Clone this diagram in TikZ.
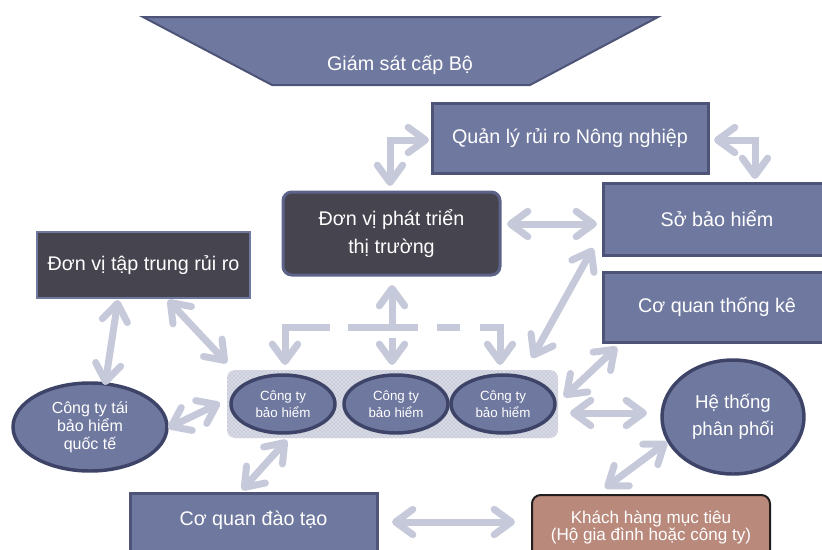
\documentclass[tikz,border=0pt]{standalone}
\usepackage{fontspec}
\setmainfont{Liberation Sans}
\usetikzlibrary{arrows.meta,shapes.geometric,patterns}

\definecolor{boxfill}{RGB}{111,120,159}
\definecolor{boxdraw}{RGB}{78,84,119}
\definecolor{darkfill}{RGB}{70,69,79}
\definecolor{darkdraw}{RGB}{92,98,136}
\definecolor{ovaldraw}{RGB}{62,68,104}
\definecolor{clientfill}{RGB}{185,137,124}
\definecolor{clientdraw}{RGB}{34,30,30}
\definecolor{linkc}{RGB}{198,201,218}
\definecolor{grpbg}{RGB}{216,218,229}
\definecolor{grpdot}{RGB}{160,164,186}

\begin{document}
\begin{tikzpicture}[x=0.75pt,y=-0.75pt,
  link/.style={draw=linkc,line width=5.25pt,line join=miter},
  twoway/.style={link,{Straight Barb[length=13pt,width=19pt,round]}-{Straight Barb[length=13pt,width=19pt,round]}},
  oneway/.style={link,-{Straight Barb[length=13pt,width=19pt,round]}},
  label font/.style={text=white,font=\fontsize{14.8}{21}\selectfont},
  panel/.style={rectangle,draw=boxdraw,line width=2.25pt,fill=boxfill,inner sep=0pt,align=center,label font},
  darkpanel/.style={rectangle,draw=darkdraw,line width=2.25pt,fill=darkfill,inner sep=0pt,align=center,label font},
  oval/.style={ellipse,draw=ovaldraw,line width=2.6pt,fill=boxfill,inner sep=0pt,align=center,text=white},
]
\useasboundingbox (0,0) rectangle (822,550);

% supervisory level banner
\draw[draw=boxdraw,line width=1.5pt,fill=boxfill] (143,17) -- (658,17) -- (530,85) -- (272,85) -- cycle;
\node[anchor=base,text=white,font=\fontsize{14.8}{17}\selectfont] (sup) at (400,70) {Giám sát cấp Bộ};

% rectangular units
\node[panel,minimum width=276*0.75pt,minimum height=70*0.75pt] (risk) at (570,138) {Quản lý rủi ro Nông nghiệp};
\node[panel,minimum width=228*0.75pt,minimum height=72*0.75pt] (dept) at (717,219) {Sở bảo hiểm};
\node[panel,minimum width=228*0.75pt,minimum height=70*0.75pt] (stat) at (717,307) {Cơ quan thống kê};
\node[darkpanel,rounded corners=6.5pt,minimum width=217*0.75pt,minimum height=83*0.75pt] (market) at (391.5,233.5) {Đơn vị phát triển\\thị trường};
\node[darkpanel,draw=boxfill,line width=1.5pt,minimum width=213*0.75pt,minimum height=66*0.75pt] (pool) at (143.5,265) {Đơn vị tập trung rủi ro};
\node[panel,minimum width=247*0.75pt,minimum height=63*0.75pt,text depth=9pt] (train) at (253.5,524.5) {Cơ quan đào tạo};
\node[rectangle,rounded corners=6.5pt,draw=clientdraw,line width=1.5pt,fill=clientfill,inner sep=0pt,align=center,
      text=white,font=\fontsize{12.8}{11.5}\selectfont,minimum width=238*0.75pt,minimum height=65*0.75pt] (client) at (651,527.5)
      {Khách hàng mục tiêu\\(Hộ gia đình hoặc công ty)};

% oval units
\node[oval,font=\fontsize{14}{20}\selectfont,minimum width=142*0.75pt,minimum height=114*0.75pt] (dist) at (733,417) {Hệ thống\\phân phối};
\node[oval,font=\fontsize{12}{13.5}\selectfont,minimum width=154*0.75pt,minimum height=88*0.75pt] (reins) at (90,427) {Công ty tái\\bảo hiểm\\quốc tế};

% insurers group
\node[rectangle,rounded corners=6pt,fill=grpbg,postaction={pattern=crosshatch dots,pattern color=grpdot},
      minimum width=331*0.75pt,minimum height=68*0.75pt,inner sep=0pt] (group) at (392.5,404) {};
\node[oval,font=\fontsize{10}{13}\selectfont,minimum width=104*0.75pt,minimum height=58*0.75pt] (ins1) at (283,404) {Công ty\\bảo hiểm};
\node[oval,font=\fontsize{10}{13}\selectfont,minimum width=104*0.75pt,minimum height=58*0.75pt] (ins2) at (396,404) {Công ty\\bảo hiểm};
\node[oval,font=\fontsize{10}{13}\selectfont,minimum width=104*0.75pt,minimum height=58*0.75pt] (ins3) at (503,404) {Công ty\\bảo hiểm};

% connector end points
\coordinate (a1) at (390,186);  \coordinate (ac) at (390,140);  \coordinate (a2) at (429,140);
\coordinate (b1) at (714,140);  \coordinate (bc) at (755,140);  \coordinate (b2) at (755,179);
\coordinate (c1) at (507,224);  \coordinate (c2) at (597,224);
\coordinate (d1) at (593,248);  \coordinate (d2) at (532,358);
\coordinate (e0) at (392,327);  \coordinate (e1) at (392,285);
\coordinate (f1) at (118,300);  \coordinate (f2) at (105,385);
\coordinate (g1) at (168,300);  \coordinate (g2) at (227,363);
\coordinate (h1) at (168,428);  \coordinate (h2) at (220,403);
\coordinate (i1) at (287,440);  \coordinate (i2) at (242,490);
\coordinate (j1) at (617,347);  \coordinate (j2) at (564,397);
\coordinate (k1) at (570,413);  \coordinate (k2) at (647,413);
\coordinate (l1) at (667,442);  \coordinate (l2) at (605,488);
\coordinate (m1) at (392,522);  \coordinate (m2) at (515,522);
% dashed distribution bus
\coordinate (pL) at (330,327);  \coordinate (pLc) at (285,327); \coordinate (pLt) at (285,365);
\coordinate (pR) at (480,327);  \coordinate (pRc) at (500,327); \coordinate (pRt) at (500,365);
\coordinate (q1) at (348,327);  \coordinate (q2) at (460,327);
\coordinate (s1) at (392,338);  \coordinate (s2) at (392,345);  \coordinate (st) at (392,365);

% connectors
\draw[twoway] (a1) -- (ac) -- (a2);
\draw[twoway] (b1) -- (bc) -- (b2);
\draw[twoway] (c1) -- (c2);
\draw[twoway] (d1) -- (d2);
\draw[oneway] (e0) -- (e1);
\draw[twoway] (f1) -- (f2);
\draw[twoway] (g1) -- (g2);
\draw[twoway] (h1) -- (h2);
\draw[twoway] (i1) -- (i2);
\draw[twoway] (j1) -- (j2);
\draw[twoway] (k1) -- (k2);
\draw[twoway] (l1) -- (l2);
\draw[twoway] (m1) -- (m2);

\draw[oneway] (pL) -- (pLc) -- (pLt);
\draw[oneway] (pR) -- (pRc) -- (pRt);
\draw[link,dash pattern=on 52.5pt off 14.25pt on 17.25pt off 40pt] (q1) -- (q2);
\draw[link] (s1) -- (s2);
\draw[oneway] (s2) -- (st);
\end{tikzpicture}
\end{document}
